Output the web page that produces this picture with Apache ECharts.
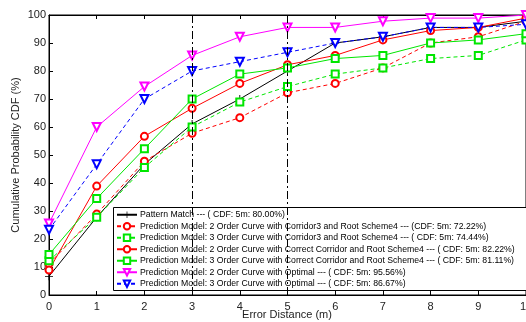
<!DOCTYPE html>
<html>
<head>
<meta charset="utf-8">
<script src="https://cdn.jsdelivr.net/npm/echarts@6/dist/echarts.min.js"></script>
<style>
html,body{margin:0;padding:0;background:#fff;}
#c{width:526px;height:322px;}
</style>
</head>
<body>
<div id="c"></div>
<script>
var distances = [0,1,2,3,4,5,6,7,8,9,10];
var yTicks = [0,10,20,30,40,50,60,70,80,90,100];
var xTitle = 'Error Distance (m)';
var yTitle = 'Cumulative Probability CDF (%)';
var seriesNames = [
  "Pattern Match --- ( CDF: 5m: 80.00%)",
  "Prediction Model: 2 Order Curve with Corridor3 and Root Scheme4 --- (CDF: 5m: 72.22%)",
  "Prediction Model: 3 Order Curve with Corridor3 and Root Scheme4 --- ( CDF: 5m: 74.44%)",
  "Prediction Model: 2 Order Curve with Correct Corridor and Root Scheme4 --- ( CDF: 5m: 82.22%)",
  "Prediction Model: 3 Order Curve with Correct Corridor and Root Scheme4 --- ( CDF: 5m: 81.11%)",
  "Prediction Model: 2 Order Curve with Optimal --- ( CDF: 5m: 95.56%)",
  "Prediction Model: 3 Order Curve with Optimal --- ( CDF: 5m: 86.67%)"
];
var patternMatch      = [6.67, 27.78, 46.67, 61.11, 70.00, 80.00, 90.00, 92.22, 95.56, 95.56, 97.78];
var order2Corridor3   = [11.11, 28.89, 47.78, 57.78, 63.33, 72.22, 75.56, 81.11, 90.00, 92.22, 97.78];
var order3Corridor3   = [12.22, 27.78, 45.56, 60.00, 68.89, 74.44, 78.89, 81.11, 84.44, 85.56, 91.11];
var order2Correct     = [8.89, 38.89, 56.67, 66.67, 75.56, 82.22, 85.56, 91.11, 94.44, 95.56, 98.89];
var order3Correct     = [14.44, 34.44, 52.22, 70.00, 78.89, 81.11, 84.44, 85.56, 90.00, 91.11, 93.33];
var order2Optimal     = [25.56, 60.00, 74.44, 85.56, 92.22, 95.56, 95.56, 97.78, 98.89, 98.89, 100.00];
var order3Optimal     = [23.33, 46.67, 70.00, 80.00, 83.33, 86.67, 90.00, 92.22, 95.56, 95.56, 96.67];
var refLines = [3, 5];

var allData = [patternMatch, order2Corridor3, order3Corridor3, order2Correct, order3Correct, order2Optimal, order3Optimal];
var colors = ['#000000','#ff0000','#00e600','#ff0000','#00e600','#ff00ff','#0000ff'];
var dashed = [false, true, true, false, false, false, true];
var plusPath = 'path://M4,0h1v9h-1z M0,4h9v1h-9z';
var symbols = [plusPath, 'emptyCircle', 'emptyRect', 'emptyCircle', 'emptyRect', 'emptyTriangle', 'emptyTriangle'];
var symbolSizes = [8, 7, 7, 7, 7, 8, 8];
var rotates = [0, 0, 0, 0, 0, 180, 180];

function pairs(arr){ return distances.map(function(d,i){ return [d, arr[i]]; }); }

var series = allData.map(function(arr, i){
  var s = {
    name: seriesNames[i],
    type: 'line',
    data: pairs(arr),
    symbol: symbols[i],
    symbolSize: symbolSizes[i],
    symbolRotate: rotates[i],
    showAllSymbol: true,
    animation: false,
    color: colors[i],
    lineStyle: {color: colors[i], width: 1, type: dashed[i] ? [4,3] : 'solid'},
    itemStyle: {color: colors[i], borderColor: colors[i], borderWidth: 1},
    z: 2
  };
  if (i === 0) {
    s.itemStyle = {color: colors[i], borderWidth: 0};
  }
  return s;
});
series.push({
  type: 'line', name: '__ref', data: [], silent: true, animation: false,
  markLine: {
    silent: true, symbol: ['none','none'], animation: false,
    label: {show: false},
    lineStyle: {color: '#000', width: 1, type: [8,3,2,3]},
    data: refLines.map(function(v){ return {xAxis: v}; })
  },
  z: 6
});

var chart = echarts.init(document.getElementById('c'), null, {renderer: 'canvas'});
var axisFont = {fontFamily: 'Liberation Sans, Arial, sans-serif', fontSize: 11, color: '#222'};
chart.setOption({
  animation: false,
  backgroundColor: '#fff',
  grid: {left: 49, right: 0, top: 15, bottom: 27, show: true, borderColor: '#000', borderWidth: 1, containLabel: false, outerBoundsMode: 'none'},
  xAxis: [{
    type: 'value', min: 0, max: 10, interval: 1,
    axisLine: {show: true, onZero: false, lineStyle: {color: '#000', width: 1}},
    axisTick: {show: true, inside: true, length: 4, lineStyle: {color: '#000'}},
    axisLabel: Object.assign({margin: 6, hideOverlap: false}, axisFont),
    splitLine: {show: false}
  },{
    type: 'value', min: 0, max: 10, interval: 1, position: 'top',
    axisLine: {show: true, onZero: false, lineStyle: {color: '#000', width: 1}},
    axisTick: {show: true, inside: true, length: 4, lineStyle: {color: '#000'}},
    axisLabel: {show: false}, splitLine: {show: false}
  }],
  yAxis: [{
    type: 'value', min: 0, max: 100, interval: 10,
    axisLine: {show: true, onZero: false, lineStyle: {color: '#000', width: 1}},
    axisTick: {show: true, inside: true, length: 4, lineStyle: {color: '#000'}},
    axisLabel: Object.assign({margin: 3, formatter: function(v){ return yTicks.indexOf(v) >= 0 ? String(v) : ''; }}, axisFont),
    splitLine: {show: false}
  }],
  graphic: [
    {type: 'rect', z: 3, silent: true, shape: {x: 113.5, y: 207.5, width: 420, height: 83},
     style: {fill: '#fff', stroke: '#000', lineWidth: 1}},
    {type: 'text', z: 3, silent: true, x: 287, y: 315,
     style: {text: xTitle, fill: '#222', font: '11px "Liberation Sans", Arial, sans-serif', align: 'center', verticalAlign: 'middle'}},
    {type: 'text', z: 3, silent: true, x: 16, y: 155, rotation: Math.PI / 2,
     style: {text: yTitle, fill: '#222', font: '11px "Liberation Sans", Arial, sans-serif', align: 'center', verticalAlign: 'middle'}}
  ],
  legend: {
    data: seriesNames,
    orient: 'vertical',
    left: 113, top: 208,
    itemWidth: 20, itemHeight: 8, itemGap: 0,
    padding: [1, 4, 1, 3],
    backgroundColor: 'transparent',
    borderWidth: 0,
    z: 4,
    selectedMode: false,
    textStyle: {fontFamily: 'Liberation Sans, Arial, sans-serif', fontSize: 8.7, color: '#000', lineHeight: 11.5, padding: [0,0,0,-2]}
  },
  series: series
});
</script>
</body>
</html>
